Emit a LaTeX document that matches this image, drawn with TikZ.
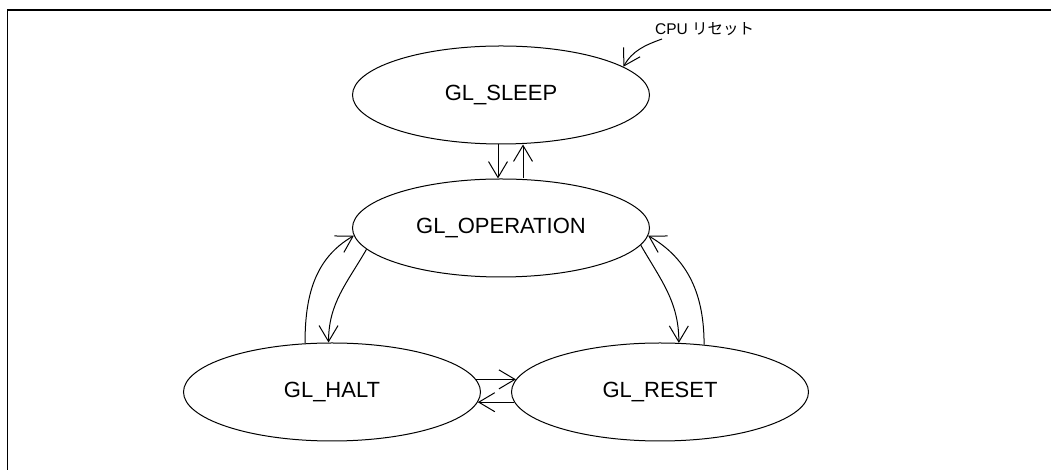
\documentclass[tikz,border=0pt]{standalone}
\usepackage{fontspec}
\setmainfont{Liberation Sans}
\newfontfamily\jpfont{Noto Sans CJK JP}
\usetikzlibrary{arrows.meta,shapes.geometric}

\begin{document}
\begin{tikzpicture}[x=1pt,y=1pt,
        glstate/.style={draw, ellipse, line width=1pt, minimum width=297pt, minimum height=98pt, inner sep=0pt, font=\fontsize{22}{26}\selectfont},
        trans/.style={-{Straight Barb[length=16pt,width=19pt]}, line width=1pt}]
        \useasboundingbox (0,0) rectangle (1051,470);
        \draw[line width=1.8pt] (7.5,0) |- (1051,460);

        \node[glstate] (sleep) at (501,375) {GL\_SLEEP};
        \node[glstate] (op) at (501,242) {GL\_OPERATION};
        \node[glstate] (halt) at (332,78) {GL\_HALT};
        \node[glstate] (reset) at (660,78) {GL\_RESET};

        \node[anchor=base west, inner sep=0pt, font=\fontsize{15.5}{18}\selectfont] (cpu) at (655,435) {CPU {\jpfont リセット}};
        \coordinate (rst) at ([xshift=7pt,yshift=-4pt]cpu.base west);
        \draw[trans] (rst) to[out=200,in=60] (sleep.13);

        \draw[trans] ([xshift=-3pt]sleep.south) -- ([xshift=-3pt]op.north);
        \draw[trans] ([xshift=22pt]op.north) -- ([xshift=22pt]sleep.south);

        \draw[trans] (op.189) to[out=240,in=90] (halt.94);
        \draw[trans] (halt.119) to[out=90,in=210] (op.183);
        \draw[trans] (op.-7) to[out=-60,in=90] (reset.69);
        \draw[trans] (reset.47) to[out=90,in=-30] (op.-3);

        \draw[trans] (halt.5) -- (reset.175);
        \draw[trans] (reset.184) -- (halt.-4);
\end{tikzpicture}
\end{document}
